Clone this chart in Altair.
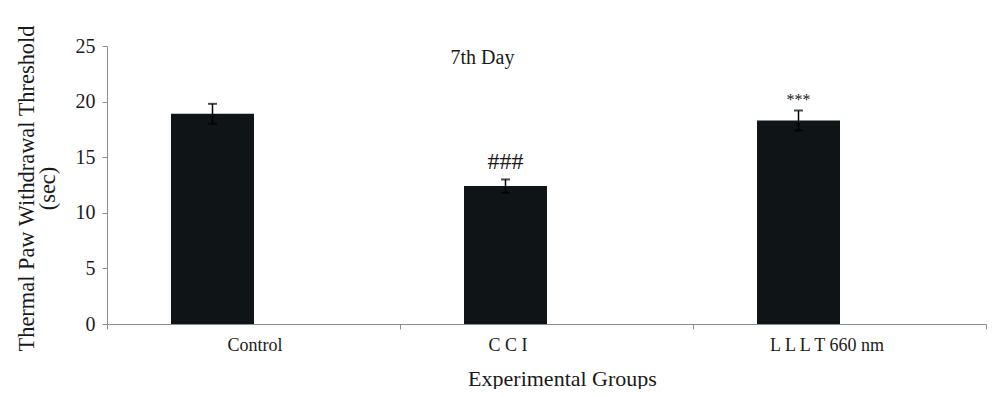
import altair as alt
import pandas as pd

groups = ["Control", "C C I", "L L L T 660 nm"]
means = [18.9, 12.4, 18.3]
errors = [0.9, 0.6, 0.9]
notes = ["", "###", "***"]

df = pd.DataFrame({"group": groups, "mean": means, "err": errors, "note": notes})

FONT = "Liberation Serif"
TXT = "#1a1a1a"
AX = "#8a8f91"
BAR_OFF = -41

x_enc = alt.X(
    "group:N",
    sort=groups,
    scale=alt.Scale(paddingInner=0, paddingOuter=0),
    axis=alt.Axis(
        title="Experimental Groups",
        titleFont=FONT, titleFontSize=22, titleFontWeight="normal", titleColor=TXT,
        titleX=455, titleY=61, titleBaseline="alphabetic",
        labelFont=FONT, labelFontSize=18, labelColor=TXT, labelAngle=0,
        labelPadding=7, tickSize=5, tickColor=AX, domainColor=AX,
        tickBand="extent",
        labelOffset={"condition": [
            {"test": "datum.value == 'C C I'", "value": -39},
            {"test": "datum.value == 'L L L T 660 nm'", "value": -13},
        ], "value": 1},
    ),
)
x_plain = alt.X("group:N", sort=groups, scale=alt.Scale(paddingInner=0, paddingOuter=0))

y_scale = alt.Scale(domain=[0, 25], padding=0, nice=False)
y_axis = alt.Axis(
    title=["Thermal Paw Withdrawal Threshold", "(sec)"],
    titleFont=FONT, titleFontSize=22.4, titleFontWeight="normal", titleColor=TXT,
    titleX=-74, titleY=142, titleBaseline="alphabetic", titleLineHeight=21,
    labelFont=FONT, labelFontSize=20, labelColor=TXT,
    values=[0, 5, 10, 15, 20, 25], tickSize=5, tickColor=AX, domainColor=AX,
    labelPadding=7, grid=False,
)

base = alt.Chart(df).transform_calculate(
    lo="datum.mean - datum.err", hi="datum.mean + datum.err"
)

bars = base.mark_bar(size=83, xOffset=BAR_OFF, color="#0f1416").encode(
    x=x_enc, y=alt.Y("mean:Q", scale=y_scale, axis=y_axis)
)

rules = base.mark_rule(xOffset=BAR_OFF, color="#000000", strokeWidth=1.5).encode(
    x=x_plain, y=alt.Y("lo:Q", scale=y_scale), y2="hi:Q"
)
cap_hi = base.mark_tick(xOffset=BAR_OFF, color="#000000", size=9, thickness=2).encode(
    x=x_plain, y=alt.Y("hi:Q", scale=y_scale)
)
cap_lo = base.mark_tick(xOffset=BAR_OFF, color="#000000", size=9, thickness=2).encode(
    x=x_plain, y=alt.Y("lo:Q", scale=y_scale)
)
hash_lbl = base.transform_filter(alt.datum.note == "###").mark_text(
    xOffset=BAR_OFF, dy=-10, baseline="alphabetic", font=FONT, fontSize=24, color=TXT
).encode(x=x_plain, y=alt.Y("hi:Q", scale=y_scale), text="note:N")
star_lbl = base.transform_filter(alt.datum.note == "***").mark_text(
    xOffset=BAR_OFF, dy=-5, baseline="alphabetic", font=FONT, fontSize=16, color=TXT
).encode(x=x_plain, y=alt.Y("hi:Q", scale=y_scale), text="note:N")

chart = alt.layer(bars, rules, cap_hi, cap_lo, hash_lbl, star_lbl).properties(
    width=879,
    height=278,
    autosize=alt.AutoSizeParams(type="none"),
    padding={"left": 99, "top": 38, "right": 6, "bottom": 65},
    title=alt.TitleParams(
        text="7th Day", font=FONT, fontSize=20, fontWeight="normal", color=TXT,
        anchor="middle", dx=-64, dy=59, offset=0, baseline="alphabetic",
    ),
).configure(background="white").configure_view(stroke="transparent", strokeWidth=0)

chart.save("out.html", embed_options={"renderer": "svg", "actions": False})
